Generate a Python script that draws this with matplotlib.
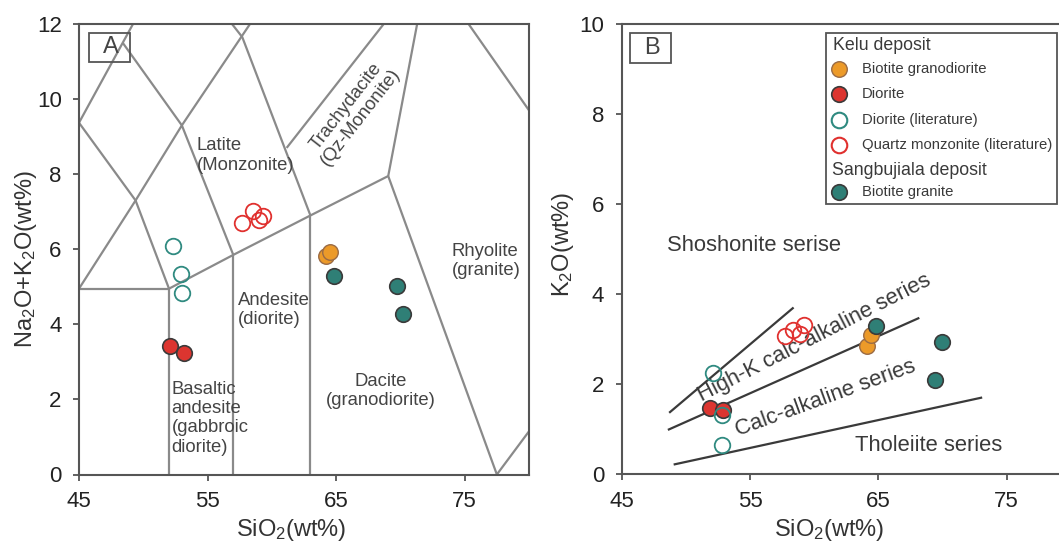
import matplotlib
matplotlib.use("Agg")
import matplotlib.pyplot as plt
from matplotlib.patches import Rectangle
from matplotlib.lines import Line2D

plt.rcParams['font.family'] = ['Liberation Sans', 'DejaVu Sans']
plt.rcParams['mathtext.fontset'] = 'custom'
plt.rcParams['mathtext.rm'] = 'Liberation Sans'
plt.rcParams['mathtext.it'] = 'Liberation Sans'

W, H = 1059, 543

# ---------------- data ----------------
# Panel A (TAS)
diorite_lit_A_x = [52.3, 52.9, 53.0]
diorite_lit_A_y = [6.09, 5.34, 4.83]
qmonz_lit_A_x = [57.7, 58.5, 59.0, 59.3]
qmonz_lit_A_y = [6.70, 7.03, 6.79, 6.89]
bgranodiorite_A_x = [64.2, 64.5]
bgranodiorite_A_y = [5.83, 5.94]
diorite_A_x = [52.05, 53.2]
diorite_A_y = [3.43, 3.23]
bgranite_A_x = [64.85, 69.7, 70.2]
bgranite_A_y = [5.30, 5.01, 4.28]

# Panel B (SiO2 - K2O)
diorite_lit_B_x = [52.1, 52.8, 52.8]
diorite_lit_B_y = [2.24, 1.31, 0.64]
qmonz_lit_B_x = [57.7, 58.35, 58.9, 59.2]
qmonz_lit_B_y = [3.07, 3.20, 3.11, 3.31]
bgranodiorite_B_x = [64.1, 64.4]
bgranodiorite_B_y = [2.84, 3.09]
diorite_B_x = [51.9, 52.9]
diorite_B_y = [1.46, 1.42]
bgranite_B_x = [64.8, 70.0, 69.45]
bgranite_B_y = [3.30, 2.94, 2.10]

# TAS field boundaries (SiO2, Na2O+K2O)
tas_lines = [
    [(45, 9.37), (49.2, 12)],
    [(45, 9.37), (49.4, 7.3), (45, 4.95)],
    [(45, 4.95), (52, 4.95), (52, 0)],
    [(49.4, 7.3), (52, 4.95)],
    [(48.4, 11.5), (53, 9.3), (58.3, 12)],
    [(49.4, 7.3), (53, 9.3), (57, 5.85)],
    [(52, 4.95), (57, 5.85), (63, 6.9), (69.05, 7.95)],
    [(57, 0), (57, 5.85)],
    [(63, 0), (63, 6.9)],
    [(56.9, 12), (57.7, 11.65), (63, 6.9)],
    [(61.15, 8.7), (68.7, 12)],
    [(69.05, 7.95), (71.3, 12)],
    [(69.05, 7.95), (77.5, 0), (80, 1.15)],
    [(75.3, 12), (80, 9.7)],
]

# SiO2-K2O series boundaries
k2o_lines = [
    [(48.7, 1.36), (58.4, 3.70)],
    [(48.6, 0.98), (68.2, 3.47)],
    [(49.05, 0.21), (73.1, 1.70)],
]

xticks = [45, 55, 65, 75]
yticksA = [0, 2, 4, 6, 8, 10, 12]
yticksB = [0, 2, 4, 6, 8, 10]

# ---------------- styles ----------------
C_OR, C_OR_E = '#EC9A29', '#9A6B45'
C_RD, C_DK_E = '#DC3530', '#3A3A3A'
C_TL = '#2F7F76'
C_TL_O = '#2F8A80'
C_RD_O = '#E0302E'
MS = 11.2
SPINE = '#555555'
TXT = '#444444'

fig = plt.figure(figsize=(W / 100, H / 100), dpi=100)


def fx(px):
    return px / W


def fy(py):
    return 1 - py / H


axA = fig.add_axes([fx(79), fy(474.5), 450 / W, 450.5 / H])
axB = fig.add_axes([fx(621.7), fy(474), 449 / W, 450 / H])


def style(ax, yt, ymax):
    ax.set_xlim(45, 80)
    ax.set_ylim(0, ymax)
    ax.set_xticks(xticks)
    ax.set_yticks(yt)
    for s in ax.spines.values():
        s.set_color(SPINE)
        s.set_linewidth(1.5)
    ax.tick_params(direction='out', length=4.5, width=1.3, color=SPINE,
                   labelsize=16, labelcolor='#222222')
    ax.tick_params(axis='x', pad=7.5)
    ax.tick_params(axis='y', pad=8)


style(axA, yticksA, 12)
style(axB, yticksB, 10)

# ---- panel A ----
for ln in tas_lines:
    xs = [p[0] for p in ln]
    ys = [p[1] for p in ln]
    axA.plot(xs, ys, color='#8A8A8A', lw=1.6, solid_capstyle='butt', zorder=1)


def pts(ax, x, y, kind):
    if kind == 'or':
        ax.plot(x, y, 'o', ms=MS, mfc=C_OR, mec=C_OR_E, mew=1.0, ls='none', zorder=3)
    elif kind == 'rd':
        ax.plot(x, y, 'o', ms=MS, mfc=C_RD, mec=C_DK_E, mew=1.2, ls='none', zorder=3)
    elif kind == 'tl':
        ax.plot(x, y, 'o', ms=MS, mfc=C_TL, mec=C_DK_E, mew=1.2, ls='none', zorder=3)
    elif kind == 'tlo':
        ax.plot(x, y, 'o', ms=MS, mfc='none', mec=C_TL_O, mew=1.3, ls='none', zorder=4)
    elif kind == 'rdo':
        ax.plot(x, y, 'o', ms=MS, mfc='none', mec=C_RD_O, mew=1.3, ls='none', zorder=4)


pts(axA, diorite_A_x, diorite_A_y, 'rd')
pts(axA, bgranodiorite_A_x, bgranodiorite_A_y, 'or')
pts(axA, bgranite_A_x, bgranite_A_y, 'tl')
pts(axA, diorite_lit_A_x, diorite_lit_A_y, 'tlo')
pts(axA, qmonz_lit_A_x, qmonz_lit_A_y, 'rdo')

fsA = 13.3
LS = 1.18
axA.text(54.15, 8.5, 'Latite\n(Monzonite)', fontsize=fsA, color=TXT,
         ha='left', va='center', linespacing=LS)
axA.text(66.34, 9.67, 'Trachydacite\n(Qz-Mononite)', fontsize=fsA, color=TXT,
         ha='center', va='center', rotation=52, rotation_mode='anchor',
         linespacing=1.05, multialignment='center')
axA.text(57.37, 4.38, 'Andesite\n(diorite)', fontsize=fsA, color=TXT,
         ha='left', va='center', linespacing=LS)
axA.text(52.2, 1.5, 'Basaltic\nandesite\n(gabbroic\ndiorite)', fontsize=fsA,
         color=TXT, ha='left', va='center', linespacing=LS)
axA.text(68.45, 2.23, 'Dacite\n(granodiorite)', fontsize=fsA, color=TXT,
         ha='center', va='center', linespacing=LS, multialignment='center')
axA.text(74.0, 5.69, 'Rhyolite\n(granite)', fontsize=fsA, color=TXT,
         ha='left', va='center', linespacing=LS)

# ---- panel B ----
for ln in k2o_lines:
    xs = [p[0] for p in ln]
    ys = [p[1] for p in ln]
    axB.plot(xs, ys, color='#3A3A3A', lw=1.6, solid_capstyle='butt', zorder=1)

pts(axB, diorite_B_x, diorite_B_y, 'rd')
pts(axB, bgranodiorite_B_x, bgranodiorite_B_y, 'or')
pts(axB, bgranite_B_x, bgranite_B_y, 'tl')
pts(axB, diorite_lit_B_x, diorite_lit_B_y, 'tlo')
pts(axB, qmonz_lit_B_x, qmonz_lit_B_y, 'rdo')

fsB = 15.8
TB = '#3A3A3A'
axB.text(48.5, 5.07, 'Shoshonite serise', fontsize=fsB, color=TB,
         ha='left', va='center')
axB.text(60.0, 3.02, 'High-K calc-alkaline series', fontsize=fsB, color=TB,
         ha='center', va='center', rotation=27, rotation_mode='anchor')
axB.text(60.9, 1.68, 'Calc-alkaline series', fontsize=fsB, color=TB,
         ha='center', va='center', rotation=20, rotation_mode='anchor')
axB.text(63.2, 0.64, 'Tholeiite series', fontsize=fsB, color=TB,
         ha='left', va='center')

# ---- panel letter boxes ----
for (x0, y0, x1, y1, lab) in [(89.3, 32.7, 130, 62, 'A'), (630, 33.3, 671, 62.7, 'B')]:
    fig.patches.append(Rectangle((fx(x0), fy(y1)), (x1 - x0) / W, (y1 - y0) / H,
                                 transform=fig.transFigure, fill=False,
                                 ec=SPINE, lw=1.3, zorder=5))
    fig.text(fx((x0 + x1) / 2 + 1), fy((y0 + y1) / 2), lab, fontsize=17,
             color=TXT, ha='center', va='center')

# ---- axis labels ----
fig.text(fx(291), fy(536), r'SiO$_{\mathregular{2}}$(wt%)', fontsize=17,
         color='#333333', ha='center', va='baseline')
fig.text(fx(829), fy(536), r'SiO$_{\mathregular{2}}$(wt%)', fontsize=17,
         color='#333333', ha='center', va='baseline')
fig.text(fx(26), fy(259), r'Na$_{\mathregular{2}}$O+K$_{\mathregular{2}}$O(wt%)',
         fontsize=17, color='#333333', ha='center', va='center', rotation=90)
fig.text(fx(563), fy(244), r'K$_{\mathregular{2}}$O(wt%)', fontsize=17,
         color='#333333', ha='center', va='center', rotation=90)

# ---- legend (panel B) ----
fig.patches.append(Rectangle((fx(825.7), fy(204)), (1056.7 - 825.7) / W, (204 - 33.3) / H,
                             transform=fig.transFigure, fill=True, fc='white',
                             ec=SPINE, lw=1.3, zorder=5))
leg_items = [
    (69.3, 'or', 'Biotite granodiorite'),
    (93.7, 'rd', 'Diorite'),
    (120.0, 'tlo', 'Diorite (literature)'),
    (145.3, 'rdo', 'Quartz monzonite (literature)'),
    (192.3, 'tl', 'Biotite granite'),
]
style_map = {
    'or': dict(mfc=C_OR, mec=C_OR_E, mew=1.0),
    'rd': dict(mfc=C_RD, mec=C_DK_E, mew=1.2),
    'tl': dict(mfc=C_TL, mec=C_DK_E, mew=1.2),
    'tlo': dict(mfc='none', mec=C_TL_O, mew=1.5),
    'rdo': dict(mfc='none', mec=C_RD_O, mew=1.5),
}
for yy, k, lab in leg_items:
    fig.lines.append(Line2D([fx(838.5)], [fy(yy)], transform=fig.transFigure,
                            marker='o', ms=MS, ls='none', zorder=6, **style_map[k]))
    fig.text(fx(861.7), fy(yy), lab, fontsize=10.7, color=TB, ha='left',
             va='center', zorder=6)
fig.text(fx(833.3), fy(45.7), 'Kelu deposit', fontsize=12.8, color=TB,
         ha='left', va='center', zorder=6)
fig.text(fx(831.7), fy(170.7), 'Sangbujiala deposit', fontsize=12.8, color=TB,
         ha='left', va='center', zorder=6)

fig.savefig('out.png', dpi=100)
